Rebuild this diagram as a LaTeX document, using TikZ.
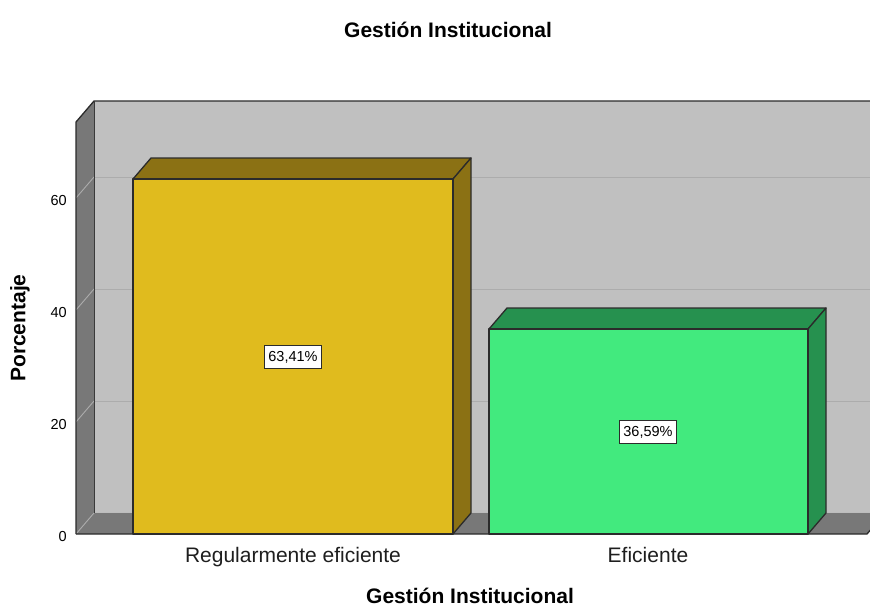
\documentclass[tikz,border=0pt]{standalone}
\usepackage{fontspec}
\setmainfont{Liberation Sans}
\definecolor{goldF}{HTML}{E0BB1E}
\definecolor{goldD}{HTML}{8B7114}
\definecolor{greenF}{HTML}{42EA7E}
\definecolor{greenD}{HTML}{26914F}
\definecolor{wallB}{HTML}{C0C0C0}
\definecolor{wallS}{HTML}{787878}
\definecolor{gridc}{HTML}{ACACAC}
\definecolor{edgec}{HTML}{2B2B2B}
\definecolor{txtc}{HTML}{1E1E1E}
\tikzset{
  edgeline/.style={draw=edgec, line width=1.3pt, line join=round},
  gridline/.style={draw=gridc, line width=0.9pt},
  bigtxt/.style={font=\fontsize{21}{25}\selectfont, inner sep=0pt, anchor=base, text=txtc},
  boldtxt/.style={font=\fontsize{21}{25}\selectfont\bfseries, inner sep=0pt, anchor=base},
  ticktxt/.style={font=\fontsize{14.5}{17}\selectfont, inner sep=0pt, anchor=base east},
  valbox/.style={draw=edgec, fill=white, line width=1pt, font=\fontsize{14.5}{17}\selectfont, inner sep=0pt, minimum width=57pt, minimum height=23pt},
}
\begin{document}
\begin{tikzpicture}[x=1pt,y=-1pt]
\useasboundingbox (0,0) rectangle (870,606);
\begin{scope}
\clip (0,0) rectangle (870,606);
% back wall
\fill[wallB] (94,101) rectangle (880,513);
% gridlines on back wall
\foreach \yy in {177,289,401} { \draw[gridline] (94,\yy) -- (880,\yy); }
% left wall
\fill[wallS] (76,122) -- (94,101) -- (94,513) -- (76,534) -- cycle;
\foreach \yy in {198,310,422} { \draw[gridline] (76,\yy) -- (94,\yy-21); }
% floor
\fill[wallS] (76,534) -- (867,534) -- (885,513) -- (94,513) -- cycle;
\draw[draw=gridc!80!white, line width=1.2pt] (94,512.5) -- (885,512.5);
\draw[gridline] (76,534) -- (94,513);
% edges
\draw[edgeline] (76,534) -- (76,122) -- (94,101) -- (880,101);
\draw[draw=edgec!80!wallS, line width=0.8pt] (94,101) -- (94,513);
\draw[edgeline] (76,534) -- (867,534) -- (885,513);
% bar 1
\filldraw[edgeline, fill=goldD] (133,179) -- (151,158) -- (471,158) -- (453,179) -- cycle;
\filldraw[edgeline, fill=goldD] (453,179) -- (471,158) -- (471,513) -- (453,534) -- cycle;
\filldraw[edgeline, fill=goldF] (133,179) rectangle (453,534);
% bar 2
\filldraw[edgeline, fill=greenD] (489,329) -- (507,308) -- (826,308) -- (808,329) -- cycle;
\filldraw[edgeline, fill=greenD] (808,329) -- (826,308) -- (826,513) -- (808,534) -- cycle;
\filldraw[edgeline, fill=greenF] (489,329) rectangle (808,534);
\end{scope}
% value labels
\node[valbox] (v1) at (293,357) {63,41\%};
\node[valbox] (v2) at (648,432) {36,59\%};
% ticks
\node[ticktxt] (t0) at (67,541) {0};
\node[ticktxt] (t20) at (67,429) {20};
\node[ticktxt] (t40) at (67,317) {40};
\node[ticktxt] (t60) at (67,205) {60};
% titles
\node[boldtxt] (title) at (448,37) {Gestión Institucional};
\node[boldtxt] (xtitle) at (470,603) {Gestión Institucional};
\node[boldtxt, rotate=90, anchor=center] (ytitle) at (20,328) {Porcentaje};
\node[bigtxt] (c1) at (293,562) {Regularmente eficiente};
\node[bigtxt] (c2) at (648,562) {Eficiente};
\end{tikzpicture}
\end{document}
